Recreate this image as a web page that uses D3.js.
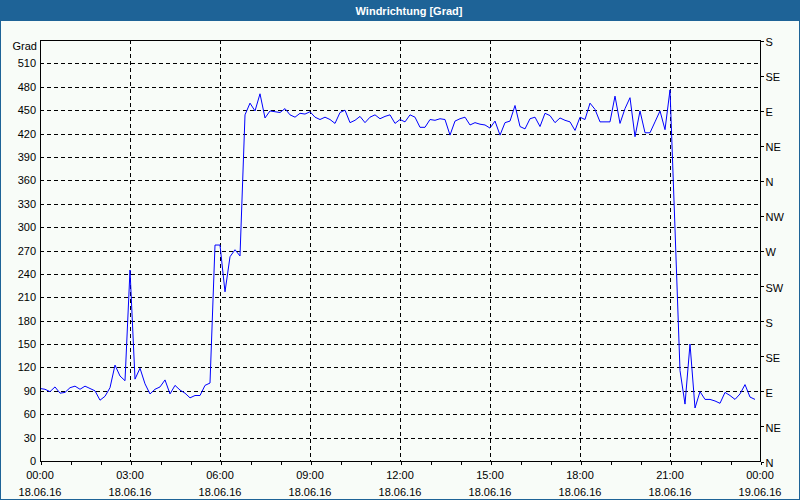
<!DOCTYPE html>
<html><head><meta charset="utf-8">
<script src="https://cdn.jsdelivr.net/npm/d3@7"></script>
<style>
html,body{margin:0;padding:0;background:#fff;}
svg{display:block;}
text{font-family:"Liberation Sans",Arial,sans-serif;}
</style></head>
<body>
<script>
// ---- data ----
const chartTitle = "Windrichtung [Grad]";
const yUnit = "Grad";
const startDate = "2016-06-18 00:00";
const endDate = "2016-06-19 00:00";
const timeLabels = [
"00:00","00:10","00:20","00:30","00:40","00:50","01:00","01:10","01:20","01:30","01:40","01:50",
"02:00","02:10","02:20","02:30","02:40","02:50","03:00","03:10","03:20","03:30","03:40","03:50",
"04:00","04:10","04:20","04:30","04:40","04:50","05:00","05:10","05:20","05:30","05:40","05:50",
"06:00","06:10","06:20","06:30","06:40","06:50","07:00","07:10","07:20","07:30","07:40","07:50",
"08:00","08:10","08:20","08:30","08:40","08:50","09:00","09:10","09:20","09:30","09:40","09:50",
"10:00","10:10","10:20","10:30","10:40","10:50","11:00","11:10","11:20","11:30","11:40","11:50",
"12:00","12:10","12:20","12:30","12:40","12:50","13:00","13:10","13:20","13:30","13:40","13:50",
"14:00","14:10","14:20","14:30","14:40","14:50","15:00","15:10","15:20","15:30","15:40","15:50",
"16:00","16:10","16:20","16:30","16:40","16:50","17:00","17:10","17:20","17:30","17:40","17:50",
"18:00","18:10","18:20","18:30","18:40","18:50","19:00","19:10","19:20","19:30","19:40","19:50",
"20:00","20:10","20:20","20:30","20:40","20:50","21:00","21:10","21:20","21:30","21:40","21:50",
"22:00","22:10","22:20","22:30","22:40","22:50","23:00","23:10","23:20","23:30","23:40","23:50"];
const direction = [
93,92,89,95,87,88,94,96,92,96,93,90,
78,83,94,123,109,103,245,105,119,99,86,92,
95,104,86,97,91,87,81,84,84,97,100,277,
277,217,262,271,263,444,459,449,471,440,449,448,
447,452,444,441,446,445,448,441,438,441,438,433,
447,450,434,437,442,434,441,444,439,442,444,433,
438,435,444,441,428,428,438,437,439,438,418,436,
439,441,431,434,432,431,427,436,418,434,436,456,
429,426,439,441,429,446,443,434,440,437,435,424,
441,438,459,451,435,435,435,468,433,452,466,416,
449,421,421,435,449,425,476,298,116,73,150,68,
89,79,79,77,74,88,84,79,86,98,82,79];
const leftTicks = [0,30,60,90,120,150,180,210,240,270,300,330,360,390,420,450,480,510];
const rightTickValues = [0,45,90,135,180,225,270,315,360,405,450,495,540];
const rightTickLabels = ["N","NE","E","SE","S","SW","W","NW","N","NE","E","SE","S"];
const xLabelTimes = ["2016-06-18 00:00","2016-06-18 03:00","2016-06-18 06:00","2016-06-18 09:00","2016-06-18 12:00","2016-06-18 15:00","2016-06-18 18:00","2016-06-18 21:00","2016-06-19 00:00"];

// ---- layout ----
const W = 800, H = 500;
const m = {left:40, right:760, top:40, bottom:461};
const parse = d3.timeParse("%Y-%m-%d %H:%M");

const svg = d3.select("body").append("svg").attr("width", W).attr("height", H);

// window frame
svg.append("rect").attr("x",0).attr("y",0).attr("width",W).attr("height",H).attr("fill","#1e6397");
svg.append("rect").attr("x",1).attr("y",21).attr("width",W-2).attr("height",H-22).attr("fill","#f8fcf8");
svg.append("text").attr("x",409).attr("y",15).attr("text-anchor","middle")
  .attr("fill","#fff").attr("font-weight","bold").attr("font-size","11px").text(chartTitle);

const x = d3.scaleTime().domain([parse(startDate), parse(endDate)]).range([m.left, m.right]);
const y = d3.scaleLinear().domain([0,540]).range([m.bottom, m.top]);

// grid
const grid = svg.append("g").attr("stroke","#000").attr("stroke-dasharray","4,3").attr("shape-rendering","crispEdges");
grid.selectAll("line.h").data(leftTicks.filter(v=>v>0)).join("line")
  .attr("x1",m.left).attr("x2",m.right).attr("y1",d=>Math.round(y(d))+0.5).attr("y2",d=>Math.round(y(d))+0.5);
grid.selectAll("line.v").data(xLabelTimes.slice(1,-1)).join("line")
  .attr("x1",d=>Math.round(x(parse(d)))+0.5).attr("x2",d=>Math.round(x(parse(d)))+0.5)
  .attr("y1",m.top).attr("y2",m.bottom);

// data line
const data = timeLabels.map((t,i)=>({t:parse("2016-06-18 "+t), v:direction[i]}));
svg.append("path").datum(data)
  .attr("fill","none").attr("stroke","#0000ff").attr("stroke-width",1)
  .attr("d", d3.line().x(d=>x(d.t)).y(d=>y(d.v)));

// frame
svg.append("rect").attr("x",m.left+0.5).attr("y",m.top+0.5).attr("width",m.right-m.left).attr("height",m.bottom-m.top)
  .attr("fill","none").attr("stroke","#000").attr("shape-rendering","crispEdges");

// left axis
const la = svg.append("g").attr("transform",`translate(${m.left},0)`)
  .call(d3.axisLeft(y).tickValues(leftTicks).tickSize(0).tickPadding(4));
la.select(".domain").remove();
la.selectAll("text").attr("font-size","11px").attr("font-family","Liberation Sans, Arial, sans-serif").attr("fill","#000");
svg.append("text").attr("x",37).attr("y",50).attr("text-anchor","end").attr("font-size","11px").text(yUnit);

// right axis
const ra = svg.append("g").attr("transform",`translate(${m.right+0.5},0.5)`)
  .call(d3.axisRight(y).tickValues(rightTickValues).tickSize(3).tickPadding(2)
    .tickFormat((d,i)=>rightTickLabels[i]));
ra.select(".domain").remove();
ra.selectAll("line").attr("shape-rendering","crispEdges");
ra.selectAll("text").attr("font-size","11px").attr("font-family","Liberation Sans, Arial, sans-serif").attr("fill","#000").attr("dy","0.45em");

// bottom axis hourly ticks
const ba = svg.append("g").attr("transform",`translate(0.5,${m.bottom+0.5})`)
  .call(d3.axisBottom(x).ticks(d3.timeHour.every(1)).tickSize(3).tickFormat(""));
ba.select(".domain").remove();
ba.selectAll("line").attr("shape-rendering","crispEdges");

// bottom labels
const fmtT = d3.timeFormat("%H:%M"), fmtD = d3.timeFormat("%d.%m.%y");
const bl = svg.append("g").attr("font-size","11px").attr("text-anchor","middle");
xLabelTimes.forEach(s=>{
  const d = parse(s);
  bl.append("text").attr("x",x(d)).attr("y",479).text(fmtT(d));
  bl.append("text").attr("x",x(d)).attr("y",496).text(fmtD(d));
});
</script>
</body></html>
